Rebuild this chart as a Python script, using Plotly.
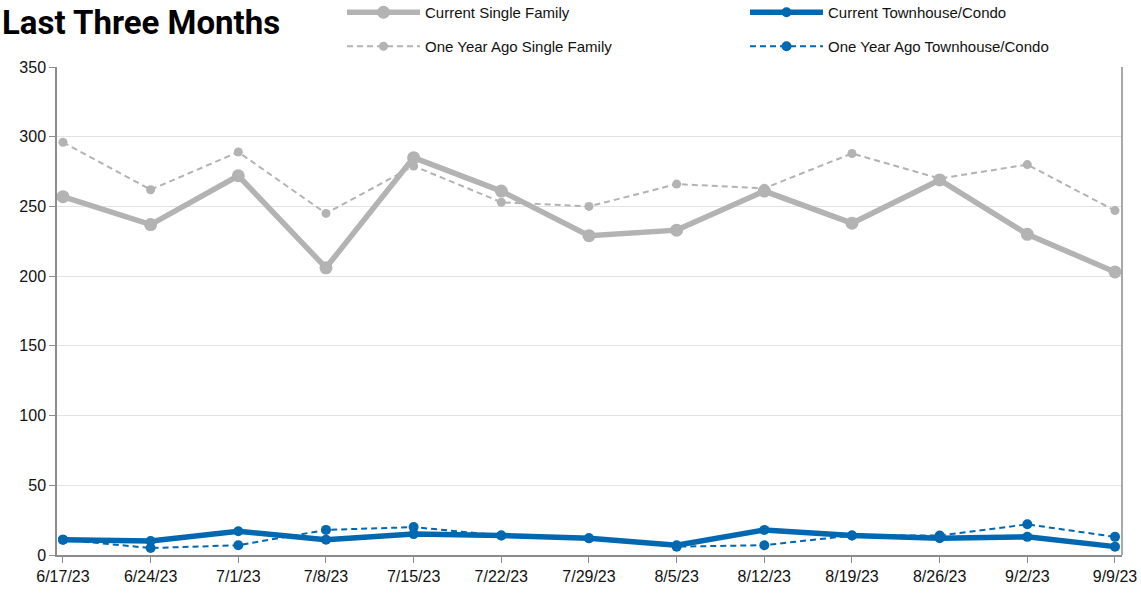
import plotly.graph_objects as go

weeks = ["6/17/23", "6/24/23", "7/1/23", "7/8/23", "7/15/23", "7/22/23", "7/29/23",
         "8/5/23", "8/12/23", "8/19/23", "8/26/23", "9/2/23", "9/9/23"]
current_sf = [257, 237, 272, 206, 285, 261, 229, 233, 261, 238, 269, 230, 203]
year_ago_sf = [296, 262, 289, 245, 279, 253, 250, 266, 263, 288, 270, 280, 247]
current_th = [11, 10, 17, 11, 15, 14, 12, 7, 18, 14, 12, 13, 6]
year_ago_th = [11, 5, 7, 18, 20, 14, 12, 6, 7, 14, 14, 22, 13]
y_ticks = [0, 50, 100, 150, 200, 250, 300, 350]

GRAY = "#b3b3b3"
BLUE = "#0067b1"
FONT = "Liberation Sans, Arial, Helvetica, sans-serif"

W, H = 1141, 594
L, T = 57, 67
R = W - 1122
B = H - 555
PW = W - L - R
PH = H - T - B

x = list(range(len(weeks)))
fig = go.Figure()
fig.add_trace(go.Scatter(x=x, y=year_ago_sf, name="One Year Ago Single Family", mode="lines+markers",
                         line=dict(color=GRAY, width=2, dash="6px,4px"), marker=dict(size=9, color=GRAY),
                         legend="legend2"))
fig.add_trace(go.Scatter(x=x, y=current_sf, name="Current Single Family", mode="lines+markers",
                         line=dict(color=GRAY, width=5.5), marker=dict(size=13, color=GRAY),
                         legend="legend"))
fig.add_trace(go.Scatter(x=x, y=year_ago_th, name="One Year Ago Townhouse/Condo", mode="lines+markers",
                         line=dict(color=BLUE, width=2, dash="6px,4px"), marker=dict(size=10, color=BLUE),
                         legend="legend2"))
fig.add_trace(go.Scatter(x=x, y=current_th, name="Current Townhouse/Condo", mode="lines+markers",
                         line=dict(color=BLUE, width=5.5), marker=dict(size=10, color=BLUE),
                         legend="legend"))

leg_x = (342 - L) / PW
fig.update_layout(
    width=W, height=H,
    margin=dict(l=L, r=R, t=T, b=B, autoexpand=False),
    paper_bgcolor="white", plot_bgcolor="white",
    font=dict(family=FONT, size=16, color="#111111"),
    legend=dict(orientation="h", x=leg_x, xanchor="left", y=1 + (T + 4) / PH, yanchor="top",
                traceorder="normal", entrywidth=315, entrywidthmode="pixels",
                font=dict(size=15, family=FONT), itemwidth=73, bgcolor="rgba(0,0,0,0)"),
    legend2=dict(orientation="h", x=leg_x, xanchor="left", y=1 + (T - 30) / PH, yanchor="top",
                 traceorder="normal", entrywidth=315, entrywidthmode="pixels",
                 font=dict(size=15, family=FONT), itemwidth=73, bgcolor="rgba(0,0,0,0)"),
    showlegend=True,
)
fig.add_annotation(text="<b>Last Three Months</b>", xref="paper", yref="paper",
                   x=(0 - L) / PW, y=1 + (T - 22) / PH, xanchor="left", yanchor="middle",
                   showarrow=False,
                   font=dict(family="Roboto, Liberation Sans, sans-serif", size=33, color="#000000"))
fig.update_xaxes(tickmode="array", tickvals=x, ticktext=weeks, range=[-0.068, 12.08],
                 showline=True, linecolor="#8c8c8c", linewidth=1.5, mirror=False,
                 ticks="outside", ticklen=6, tickcolor="#8c8c8c", showgrid=False,
                 tickfont=dict(size=16), zeroline=False)
fig.update_yaxes(range=[0, 350], tickvals=y_ticks, showline=True, linecolor="#8c8c8c", linewidth=1.5,
                 ticks="outside", ticklen=6, tickcolor="#8c8c8c", showgrid=True, gridcolor="#e3e3e3",
                 gridwidth=1, tickfont=dict(size=16), zeroline=False)
fig.add_shape(type="line", xref="paper", yref="paper", x0=1, x1=1, y0=0, y1=1,
              line=dict(color="#8c8c8c", width=1.5))

fig.write_html("out.html", config={"displayModeBar": False},
               post_script="document.body.style.margin='0px';")
